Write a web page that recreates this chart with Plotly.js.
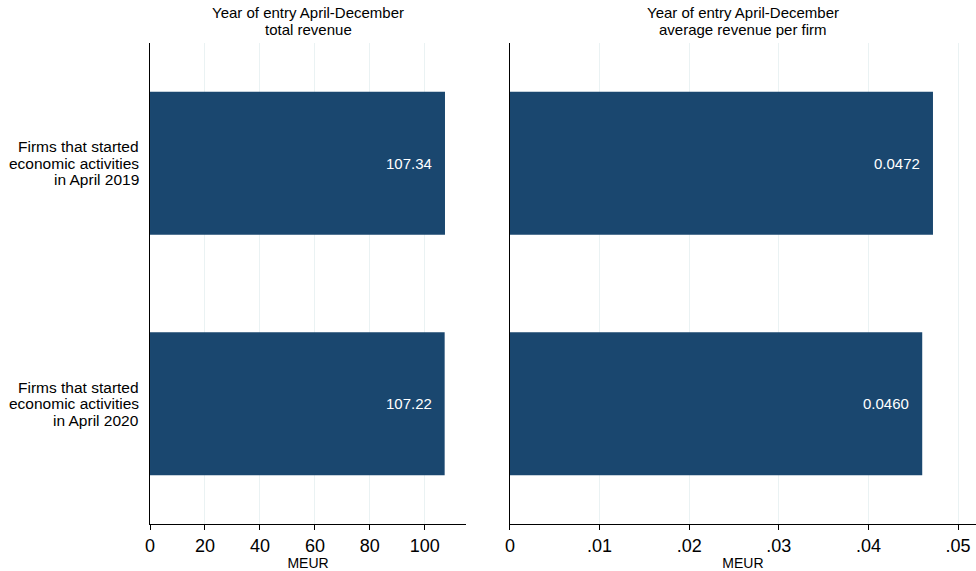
<!DOCTYPE html>
<html>
<head>
<meta charset="utf-8">
<script src="https://cdn.plot.ly/plotly-3.0.1.min.js"></script>
<style>html,body{margin:0;padding:0;background:#fff;}#chart{width:976px;height:571px;}</style>
</head>
<body>
<div id="chart"></div>
<script>
// Data
const categories = ["Firms that started<br>economic activities<br>in April 2019",
                    "Firms that started<br>economic activities<br>in April 2020"];
const totalRevenue = [107.34, 107.22];
const avgRevenue = [0.0472, 0.0460];
const totalLabels = ["107.34", "107.22"];
const avgLabels = ["0.0472", "0.0460"];
const leftTicks = [0, 20, 40, 60, 80, 100];
const leftTickText = ["0", "20", "40", "60", "80", "100"];
const rightTicks = [0, 0.01, 0.02, 0.03, 0.04, 0.05];
const rightTickText = ["0", ".01", ".02", ".03", ".04", ".05"];
const panelTitles = [["Year of entry April-December", "total revenue"],
                     ["Year of entry April-December", "average revenue per firm"]];
const xTitle = "MEUR";

const barColor = "#1a476f";
const gridColor = "#eaf2f3";
const FONT = "Liberation Sans, Arial, sans-serif";

const traces = [
  {type: "bar", orientation: "h", x: totalRevenue, y: categories, xaxis: "x", yaxis: "y",
   marker: {color: barColor, line: {width: 0}}, width: 0.595, hoverinfo: "none"},
  {type: "bar", orientation: "h", x: avgRevenue, y: categories, xaxis: "x2", yaxis: "y2",
   marker: {color: barColor, line: {width: 0}}, width: 0.595, hoverinfo: "none"}
];

const annotations = [];
// value labels inside bars
categories.forEach((c, i) => {
  annotations.push({xref: "x", yref: "y", x: totalRevenue[i], y: c, text: totalLabels[i],
    xanchor: "right", yanchor: "middle", xshift: -11, showarrow: false,
    font: {family: FONT, size: 15, color: "#ffffff"}});
  annotations.push({xref: "x2", yref: "y2", x: avgRevenue[i], y: c, text: avgLabels[i],
    xanchor: "right", yanchor: "middle", xshift: -11, showarrow: false,
    font: {family: FONT, size: 15, color: "#ffffff"}});
  // category labels, one annotation per line for tight spacing
  const lines = c.split("<br>");
  lines.forEach((ln, k) => {
    annotations.push({xref: "x", yref: "y", x: 0, y: c, text: ln,
      xanchor: "right", yanchor: "middle", xshift: -9, yshift: (1 - k) * 16.5,
      showarrow: false, font: {family: FONT, size: 15.5, color: "#000000"}});
  });
});
// panel titles
panelTitles.forEach((t, p) => {
  const xr = p === 0 ? "x domain" : "x2 domain";
  t.forEach((ln, k) => {
    annotations.push({xref: xr, yref: "paper", x: 0.5, y: 1, text: ln,
      xanchor: "center", yanchor: "bottom", yshift: k === 0 ? 19.5 : 3,
      showarrow: false, font: {family: FONT, size: 15, color: "#000000"}});
  });
});

const xcommon = {
  showline: true, linecolor: "#000000", linewidth: 1,
  ticks: "outside", ticklen: 5, tickcolor: "#000000", tickwidth: 1,
  showgrid: true, gridcolor: gridColor, gridwidth: 1, zeroline: false,
  tickfont: {family: FONT, size: 18, color: "#000000"},
  title: {text: xTitle, font: {family: FONT, size: 14, color: "#000000"}, standoff: 5},
  tickmode: "array", fixedrange: true
};

const layout = {
  width: 976, height: 571,
  margin: {l: 0, r: 0, t: 43, b: 47},
  paper_bgcolor: "#ffffff", plot_bgcolor: "#ffffff",
  showlegend: false,
  font: {family: FONT, color: "#000000"},
  xaxis: Object.assign({}, xcommon, {domain: [0.1537, 0.4775], range: [0, 115],
    tickvals: leftTicks, ticktext: leftTickText, anchor: "y"}),
  xaxis2: Object.assign({}, xcommon, {domain: [0.5225, 1.0], range: [0, 0.052],
    tickvals: rightTicks, ticktext: rightTickText, anchor: "y2"}),
  yaxis: {domain: [0, 1], range: [1.5, -0.5], showticklabels: false, ticks: "",
    showline: true, linecolor: "#000000", linewidth: 1, showgrid: false, zeroline: false,
    anchor: "x", type: "category", fixedrange: true},
  yaxis2: {domain: [0, 1], range: [1.5, -0.5], showticklabels: false, ticks: "",
    showline: true, linecolor: "#000000", linewidth: 1, showgrid: false, zeroline: false,
    anchor: "x2", type: "category", fixedrange: true},
  annotations: annotations
};

Plotly.newPlot("chart", traces, layout, {displayModeBar: false, staticPlot: true});
</script>
</body>
</html>
